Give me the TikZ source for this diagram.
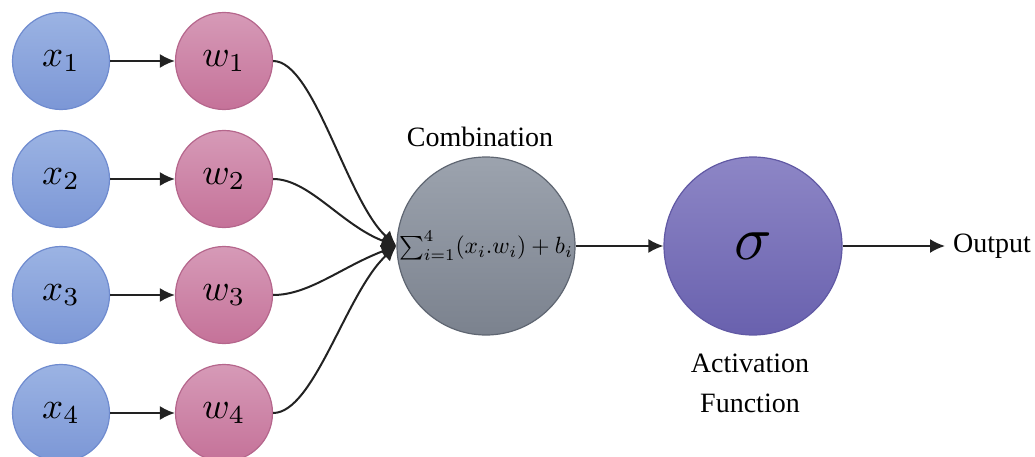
\documentclass[tikz,border=0pt]{standalone}
\usepackage{graphicx}
\usepackage{fontspec}
\newfontfamily\labfont{Liberation Serif}
\usetikzlibrary{arrows.meta}

\definecolor{inTop}{HTML}{9BB3E3}
\definecolor{inBot}{HTML}{7C97D6}
\definecolor{inLine}{HTML}{6F8BCF}
\definecolor{wTop}{HTML}{D69AB7}
\definecolor{wBot}{HTML}{C57299}
\definecolor{wLine}{HTML}{B5668C}
\definecolor{cTop}{HTML}{9CA3AE}
\definecolor{cBot}{HTML}{7B828E}
\definecolor{cLine}{HTML}{5F6672}
\definecolor{sTop}{HTML}{8D86C6}
\definecolor{sBot}{HTML}{6961AE}
\definecolor{sLine}{HTML}{6159A4}
\definecolor{wire}{HTML}{222222}

% math set at 10pt and enlarged
\newcommand{\bigmath}[2]{\scalebox{#1}{$#2$}}

\tikzset{
  inputnode/.style={circle, draw=inLine, line width=1.2pt, top color=inTop, bottom color=inBot,
    minimum size=97pt, inner sep=0pt},
  weightnode/.style={circle, draw=wLine, line width=1.2pt, top color=wTop, bottom color=wBot,
    minimum size=97pt, inner sep=0pt},
  sumnode/.style={circle, draw=cLine, line width=1.2pt, top color=cTop, bottom color=cBot,
    minimum size=178pt, inner sep=0pt},
  actnode/.style={circle, draw=sLine, line width=1.2pt, top color=sTop, bottom color=sBot,
    minimum size=178pt, inner sep=0pt},
  caption/.style={font=\labfont\fontsize{28}{40}\selectfont, inner sep=0pt, align=center},
  wirearrow/.style={draw=wire, line width=2pt, -{Latex[length=15pt,width=14pt]}},
}

\begin{document}
\begin{tikzpicture}[x=1pt, y=-1pt]
  \useasboundingbox (0,0) rectangle (1035,457);

  % inputs and weights
  \node[inputnode]  (x1) at (61,61)  {\bigmath{3.7}{x_1}};
  \node[inputnode]  (x2) at (61,179) {\bigmath{3.7}{x_2}};
  \node[inputnode]  (x3) at (61,295) {\bigmath{3.7}{x_3}};
  \node[inputnode]  (x4) at (61,413) {\bigmath{3.7}{x_4}};
  \node[weightnode] (w1) at (224,61)  {\bigmath{3.7}{w_1}};
  \node[weightnode] (w2) at (224,179) {\bigmath{3.7}{w_2}};
  \node[weightnode] (w3) at (224,295) {\bigmath{3.7}{w_3}};
  \node[weightnode] (w4) at (224,413) {\bigmath{3.7}{w_4}};

  % combination and activation
  \node[sumnode] (comb) at (486,246) {\bigmath{2.35}{\sum_{i=1}^{4}(x_i.w_i)+b_i}};
  \node[actnode] (act)  at (753,246) {\bigmath{6.2}{\sigma}};
  \coordinate (out) at (945,246);

  % labels
  \node[caption] (combLabel) at (480,137) {Combination};
  \node[caption] (actLabel)  at (750,383) {Activation\\Function};
  \node[caption, anchor=west] (outLabel) at (953,246) {Output};

  % input -> weight
  \foreach \i in {1,...,4}
    \draw[wirearrow] (x\i.east) -- (w\i.west);

  % weights converge on the combination node
  \draw[wirearrow] (w1.east) .. controls +(41,0) and +(-50,-46) .. (comb.west);
  \draw[wirearrow] (w2.east) .. controls +(36,0) and +(-55,-21) .. (comb.west);
  \draw[wirearrow] (w3.east) .. controls +(36,0) and +(-55,21)  .. (comb.west);
  \draw[wirearrow] (w4.east) .. controls +(41,0) and +(-50,46)  .. (comb.west);

  % combination -> activation -> output
  \draw[wirearrow] (comb.east) -- (act.west);
  \draw[wirearrow] (act.east) -- (out);
\end{tikzpicture}
\end{document}
